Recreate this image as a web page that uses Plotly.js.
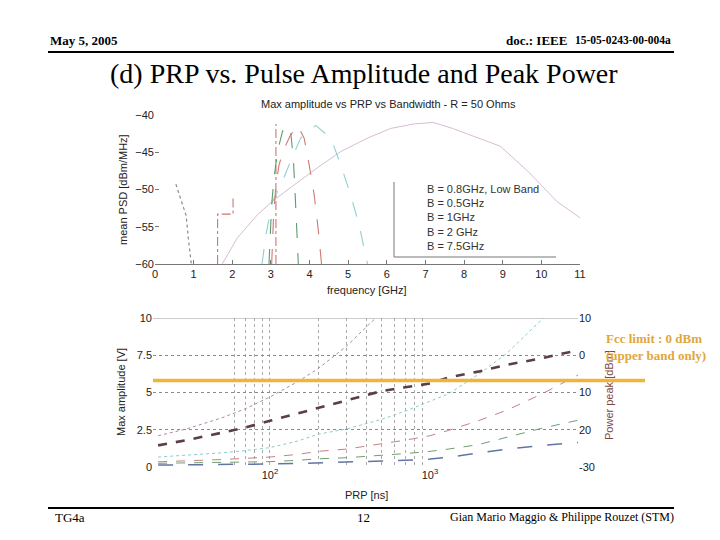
<!DOCTYPE html>
<html>
<head>
<meta charset="utf-8">
<script src="https://cdn.plot.ly/plotly-3.0.1.min.js"></script>
<style>
  body { margin: 0; background: #fff; }
  #chart { width: 720px; height: 540px; }
</style>
</head>
<body>
<div id="chart"></div>
<script>
// ---- top plot: mean PSD vs frequency ----
var grayF = [0.54, 0.71, 0.80, 0.83, 0.86, 0.94];
var grayP = [-49.3, -52.1, -53.4, -54.7, -56.5, -60];

var maskF = [1.62, 1.62, 2.02, 2.02, null, 3.13, 3.13];
var maskP = [-60, -53.3, -53.3, -51.1, null, -60, -41.2];

var b05F = [2.95, 2.98, 3.02, 3.08, 3.17, 3.30, 3.38, 3.51, 3.58, 3.62, 3.67, 3.71];
var b05P = [-60, -56.5, -52.0, -48.5, -44.9, -42.2, -41.4, -42.2, -45.8, -49.8, -55.6, -60];

var b1F = [3.02, 3.07, 3.13, 3.21, 3.34, 3.51, 3.69, 3.86, 3.99, 4.12, 4.23, 4.31];
var b1P = [-60, -53.4, -49.4, -46.7, -44.5, -42.7, -41.4, -43.1, -46.7, -50.7, -55.6, -60];

var b2F = [2.77, 2.87, 3.04, 3.26, 3.51, 3.77, 4.16, 4.55, 4.81, 5.06, 5.28, 5.5];
var b2P = [-60, -56.1, -51.6, -49.4, -46.2, -43.1, -41.4, -43.1, -46.7, -50.7, -54.7, -60];

var b75F = [1.74, 2.13, 2.65, 3.08, 3.6, 4.2, 4.81, 5.5, 6.1, 6.7, 7.2, 7.7, 8.94, 9.7, 10.4, 11.0];
var b75P = [-60, -56.5, -53.4, -51.4, -49.4, -47.1, -44.9, -43.1, -41.8, -41.2, -41.0, -41.8, -44.2, -47.8, -51.6, -53.8];

var legendLabels = ["B = 0.8GHz, Low Band", "B = 0.5GHz", "B = 1GHz", "B = 2 GHz", "B = 7.5GHz"];

// ---- bottom plot: max amplitude vs PRP ----
var prpNs = [20, 30, 50, 70, 100, 150, 200, 300, 500, 700, 1000, 1300, 2000, 3000, 5000, 8500];
var ampBlue   = [0.13, 0.14, 0.16, 0.18, 0.2, 0.24, 0.27, 0.32, 0.4, 0.45, 0.53, 0.65, 0.95, 1.2, 1.45, 1.65];
var ampGreen  = [0.25, 0.28, 0.3, 0.33, 0.36, 0.45, 0.55, 0.62, 0.78, 0.9, 1.05, 1.2, 1.5, 2.0, 2.6, 3.15];
var ampRed    = [0.35, 0.4, 0.5, 0.58, 0.67, 0.85, 1.05, 1.2, 1.55, 1.8, 2.1, 2.45, 3.1, 3.8, 4.9, 6.2];
var ampCyan   = [0.67, 0.78, 0.95, 1.1, 1.3, 1.75, 2.2, 2.55, 3.2, 3.75, 4.4, 4.9, 6.2, 7.6, 9.9, 12.5];
var ampPurple = [2.1, 2.55, 3.3, 3.9, 4.7, 5.75, 6.6, 8.1, 10.4, null, null, null, null, null, null, null];
var ampThick  = [1.45, 1.8, 2.3, 2.65, 3.1, 3.6, 4.0, 4.5, 5.1, 5.35, 5.6, 6.0, 6.4, 6.85, 7.3, 7.85];

var gridNs = [60, 70, 80, 90, 100, 200, 300, 400, 500, 600, 700, 800, 900];
var ampTicks = [0, 2.5, 5, 7.5, 10];
var powTicks = [10, 0, -10, -20, -30];
var powTickText = ["10", "0", "10", "20", "-30"];
var fccLevelV = 5.8;

function px(x) { return x / 720; }
function py(y) { return 1 - y / 540; }

function line(x, y, xa, ya, color, dash, width) {
  return {
    x: x, y: y, xaxis: xa, yaxis: ya, type: 'scatter', mode: 'lines',
    line: {color: color, dash: dash, width: width}, connectgaps: false,
    hoverinfo: 'skip', showlegend: false
  };
}

var data = [
  line(grayF, grayP, 'x', 'y', '#8a8a8a', 'dot', 1.2),
  line(maskF, maskP, 'x', 'y', '#c87878', 'dashdot', 1.1),
  line(b75F, b75P, 'x', 'y', '#d3b4cf', 'solid', 0.9),
  line(b2F, b2P, 'x', 'y', '#8fd0d0', 'longdash', 1.1),
  line(b05F, b05P, 'x', 'y', '#5f9a6c', 'longdash', 1.1),
  line(b1F, b1P, 'x', 'y', '#cc7a72', 'longdash', 1.1),

  line(prpNs, ampBlue, 'x2', 'y2', '#6274a6', 'longdash', 1.5),
  line(prpNs, ampGreen, 'x2', 'y2', '#6e9e74', 'dash', 1),
  line(prpNs, ampRed, 'x2', 'y2', '#c88080', 'dash', 1),
  line(prpNs, ampCyan, 'x2', 'y2', '#8ccaca', 'dot', 1),
  line(prpNs, ampPurple, 'x2', 'y2', '#a98aa8', 'dot', 1),
  line(prpNs, ampThick, 'x2', 'y2', '#5a3f44', 'dash', 2.6),
  // empty trace so the right-hand power axis gets drawn
  {x: [prpNs[0]], y: [null], xaxis: 'x2', yaxis: 'y3', type: 'scatter', mode: 'lines',
   hoverinfo: 'skip', showlegend: false}
];

var tickFont = {family: 'Liberation Sans, Arial, sans-serif', size: 11, color: '#222'};
var serif = 'Liberation Serif, Times New Roman, serif';

var annotations = [
  {text: '<b>May 5, 2005</b>', x: px(48), y: py(40), xanchor: 'left', font: {family: serif, size: 13, color: '#000'}},
  {text: '<b>doc.: IEEE</b>', x: px(569), y: py(40), xanchor: 'right', font: {family: serif, size: 13, color: '#000'}},
  {text: '<b>15-05-0243-00-004a</b>', x: px(673), y: py(40), xanchor: 'right', font: {family: serif, size: 11.5, color: '#000'}},
  {text: '(d) PRP vs. Pulse Amplitude and Peak Power', x: px(364), y: py(73), font: {family: serif, size: 28, color: '#000'}},
  {text: 'TG4a', x: px(53), y: py(517), xanchor: 'left', font: {family: serif, size: 13, color: '#000'}},
  {text: '12', x: px(363), y: py(517), font: {family: serif, size: 13, color: '#000'}},
  {text: 'Gian Mario Maggio &amp; Philippe Rouzet (STM)', x: px(676), y: py(517), xanchor: 'right', font: {family: serif, size: 12, color: '#000'}},

  {text: 'Max amplitude vs PRP vs Bandwidth - R = 50 Ohms', x: px(388), y: py(104), font: tickFont},
  {text: 'mean PSD [dBm/MHz]', x: px(123), y: py(190), textangle: -90, font: tickFont},
  {text: 'frequency [GHz]', x: px(366), y: py(290), font: tickFont},
  {text: 'Max amplitude [V]', x: px(121), y: py(392), textangle: -90, font: tickFont},
  {text: 'PRP [ns]', x: px(366), y: py(495), font: tickFont},
  {text: 'Power peak [dBm]', x: px(609), y: py(395), textangle: -90,
   font: {family: 'Liberation Sans, Arial, sans-serif', size: 11, color: '#7a4a40'}},
  {text: '<b>Fcc limit : 0 dBm<br>(upper band only)</b>', x: px(604), y: py(347), xanchor: 'left', align: 'left',
   font: {family: serif, size: 13, color: '#e2a63a'}}
];

// legend text of the top plot
for (var i = 0; i < legendLabels.length; i++) {
  annotations.push({
    text: legendLabels[i], x: px(425), y: py(189 + i * 14.2), xanchor: 'left',
    font: {family: 'Liberation Sans, Arial, sans-serif', size: 11, color: '#333'}
  });
}
annotations.forEach(function(a) {
  a.xref = 'paper'; a.yref = 'paper'; a.showarrow = false;
  if (!a.xanchor) a.xanchor = 'center';
  a.yanchor = 'middle';
});

var shapes = [
  // slide rules
  {type: 'line', xref: 'paper', yref: 'paper', x0: px(48), x1: px(674), y0: py(52), y1: py(52), line: {color: '#000', width: 2}},
  {type: 'line', xref: 'paper', yref: 'paper', x0: px(48), x1: px(674), y0: py(508), y1: py(508), line: {color: '#000', width: 2}},
  // legend frame of the top plot
  {type: 'line', xref: 'paper', yref: 'paper', x0: px(394), x1: px(394), y0: py(182), y1: py(257), line: {color: '#777', width: 1}},
  {type: 'line', xref: 'paper', yref: 'paper', x0: px(394), x1: px(556), y0: py(257), y1: py(257), line: {color: '#777', width: 1}},
  // top border of the amplitude plot
  {type: 'line', xref: 'paper', yref: 'y2', x0: px(153), x1: px(578), y0: ampTicks[4], y1: ampTicks[4], line: {color: '#999', width: 1}},
  // Fcc limit
  {type: 'line', xref: 'paper', yref: 'y2', x0: px(153), x1: px(645), y0: fccLevelV, y1: fccLevelV, line: {color: '#f0b43c', width: 3.5}}
];

var layout = {
  width: 720, height: 540,
  margin: {l: 0, r: 0, t: 0, b: 0},
  paper_bgcolor: '#fff', plot_bgcolor: 'rgba(0,0,0,0)',
  showlegend: false,
  font: tickFont,
  xaxis: {
    domain: [px(155), px(580)], anchor: 'y', range: [0, 11],
    tickvals: [0, 1, 2, 3, 4, 5, 6, 7, 8, 9, 10, 11],
    ticks: 'inside', ticklen: 4, tickcolor: '#777',
    showline: true, linecolor: '#777', linewidth: 1,
    showgrid: false, zeroline: false, tickfont: tickFont
  },
  yaxis: {
    domain: [py(264), py(115)], anchor: 'x', range: [-60, -40],
    tickvals: [-60, -55, -50, -45, -40],
    ticks: 'inside', ticklen: 4, tickcolor: '#777',
    showline: false, showgrid: false, zeroline: false, tickfont: tickFont
  },
  xaxis2: {
    domain: [px(153), px(578)], anchor: 'y2', type: 'log', range: [1.269, 3.925],
    tickvals: [100, 1000], ticktext: ['10<sup>2</sup>', '10<sup>3</sup>'],
    ticks: '', showgrid: false, zeroline: false, showline: false, tickfont: tickFont,
    minor: {tickmode: 'array', tickvals: gridNs, ticks: '', showgrid: true,
            gridcolor: '#aaaaaa', griddash: 'dot', gridwidth: 1}
  },
  yaxis2: {
    domain: [py(467), py(318)], anchor: 'x2', range: [0, 10],
    tickvals: ampTicks, ticktext: ['0', '2.5', '5', '7.5', '10'],
    ticks: '', showgrid: false, zeroline: false, showline: false, tickfont: tickFont,
    minor: {tickmode: 'array', tickvals: [2.5, 5, 7.5], ticks: '', showgrid: true,
            gridcolor: '#8a8a8a', griddash: 'dot', gridwidth: 1}
  },
  yaxis3: {
    overlaying: 'y2', side: 'right', anchor: 'x2', range: [-30, 10],
    tickvals: powTicks, ticktext: powTickText,
    ticks: '', showgrid: false, zeroline: false, showline: false, tickfont: tickFont
  },
  annotations: annotations,
  shapes: shapes
};

Plotly.newPlot('chart', data, layout, {displayModeBar: false, staticPlot: true});
</script>
</body>
</html>
